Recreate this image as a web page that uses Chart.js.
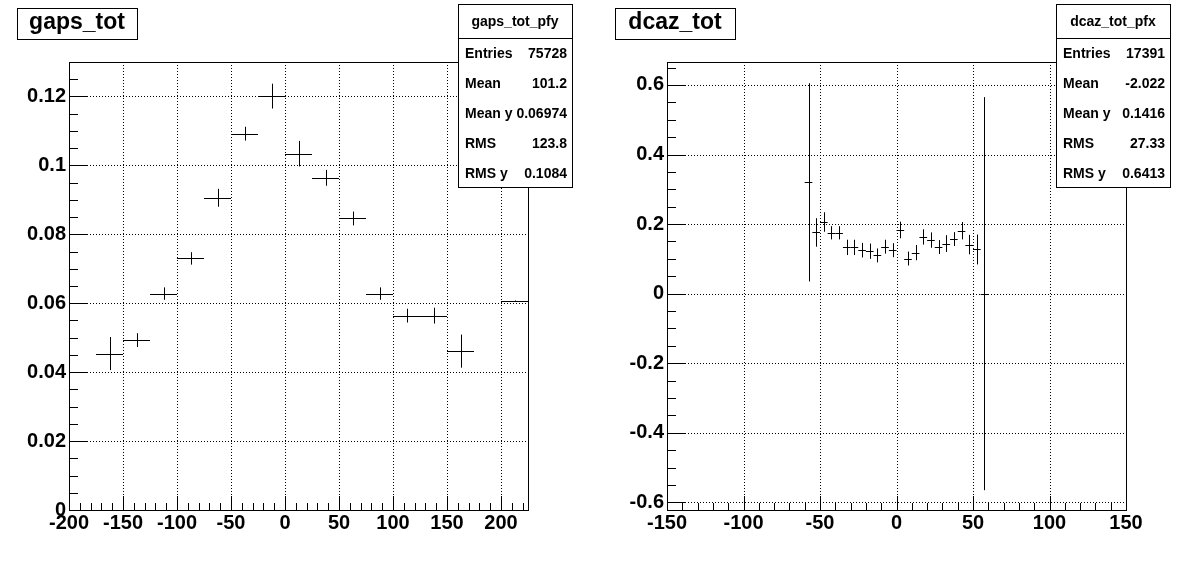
<!DOCTYPE html>
<html><head><meta charset="utf-8">
<script src="https://cdn.jsdelivr.net/npm/chart.js@4"></script>
<style>body{margin:0;background:#fff;width:1196px;height:572px;overflow:hidden}
canvas{position:absolute;top:0}</style></head>
<body>
<div style="position:absolute;left:0;top:0;width:598px;height:572px"><canvas id="c1"></canvas></div>
<div style="position:absolute;left:598px;top:0;width:598px;height:572px"><canvas id="c2"></canvas></div>
<script>
// gaps_tot (bin width 25)
const gapsX = [-162.5,-137.5,-112.5,-87.5,-62.5,-37.5,-12.5,12.5,37.5,62.5,87.5,112.5,137.5,162.5,212.5];
const gapsY = [0.0454,0.0493,0.0628,0.0730,0.0906,0.1092,0.1201,0.1034,0.0964,0.0846,0.0628,0.0564,0.0564,0.0461,0.0606];
const gapsErr = [0.0048,0.0020,0.0018,0.0018,0.0026,0.0020,0.0036,0.0037,0.0023,0.0020,0.0018,0.0020,0.0023,0.0048,0.0002];
const gapsXTicks = [-200,-150,-100,-50,0,50,100,150,200];
const gapsYTicks = [0,0.02,0.04,0.06,0.08,0.1,0.12];
const gapsStats = [["Entries","75728"],["Mean","101.2"],["Mean y","0.06974"],["RMS","123.8"],["RMS y","0.1084"]];
// dcaz_tot (bin width 5)
const dcazX = [-57.5,-52.5,-47.5,-42.5,-37.5,-32.5,-27.5,-22.5,-17.5,-12.5,-7.5,-2.5,2.5,7.5,12.5,17.5,22.5,27.5,32.5,37.5,42.5,47.5,52.5,57.5];
const dcazY = [0.320,0.176,0.206,0.175,0.175,0.133,0.133,0.125,0.122,0.110,0.135,0.125,0.183,0.101,0.118,0.163,0.154,0.134,0.144,0.157,0.181,0.141,0.127,0.0];
const dcazErr = [0.285,0.041,0.028,0.019,0.019,0.022,0.022,0.021,0.022,0.020,0.020,0.020,0.024,0.020,0.022,0.022,0.022,0.020,0.024,0.020,0.025,0.028,0.043,0.565];
const dcazXTicks = [-150,-100,-50,0,50,100,150];
const dcazYTicks = [-0.6,-0.4,-0.2,0,0.2,0.4,0.6];
const dcazStats = [["Entries","17391"],["Mean","-2.022"],["Mean y","0.1416"],["RMS","27.33"],["RMS y","0.6413"]];

const FONT = '"Liberation Sans", Arial, sans-serif';

function makeChart(id, xs, ys, errs, binW, xr, yr, xt, yt, xMinor, yMinor, title, statTitle, stats, fmtY){
  const pts = xs.map((x,i)=>({x, y: ys[i], e: errs[i]}));
  const deco = {
    id:'deco',
    beforeDatasetsDraw(ch){
      const c=ch.ctx, a=ch.chartArea, X=ch.scales.x, Y=ch.scales.y;
      c.save();
      c.strokeStyle='#000'; c.lineWidth=1; c.setLineDash([1,2]);
      xt.forEach(v=>{ if(v<=xr[0]||v>=xr[1]) return; const p=Math.round(X.getPixelForValue(v))+0.5; c.beginPath(); c.moveTo(p,a.top); c.lineTo(p,a.bottom); c.stroke(); });
      yt.forEach(v=>{ if(v<=yr[0]||v>=yr[1]) return; const p=Math.round(Y.getPixelForValue(v))+0.5; c.beginPath(); c.moveTo(a.left,p); c.lineTo(a.right,p); c.stroke(); });
      c.setLineDash([]);
      const x0 = Math.ceil(xr[0]/xMinor)*xMinor;
      for(let v=x0; v<=xr[1]+1e-9; v+=xMinor){
        const st=xt[1]-xt[0];
        const major = Math.abs(v/st - Math.round(v/st))<1e-6;
        const p=Math.round(X.getPixelForValue(v))+0.5, L= major?14:7;
        c.beginPath(); c.moveTo(p,a.bottom); c.lineTo(p,a.bottom-L); c.stroke();
      }
      const ys0 = Math.ceil(yr[0]/yMinor-1e-6)*yMinor;
      for(let v=ys0; v<=yr[1]+1e-9; v+=yMinor){
        const st=yt[1]-yt[0];
        const major = Math.abs(v/st - Math.round(v/st))<1e-6;
        const p=Math.round(Y.getPixelForValue(v))+0.5, L= major?18:9;
        c.beginPath(); c.moveTo(a.left,p); c.lineTo(a.left+L,p); c.stroke();
      }
      c.restore();
    },
    afterDatasetsDraw(ch){
      const c=ch.ctx, a=ch.chartArea, X=ch.scales.x, Y=ch.scales.y;
      c.save(); c.strokeStyle='#000'; c.lineWidth=1;
      pts.forEach(p=>{
        const xl=X.getPixelForValue(p.x-binW/2), xh=X.getPixelForValue(p.x+binW/2), xc=Math.round(X.getPixelForValue(p.x))+0.5;
        const yc=Math.round(Y.getPixelForValue(p.y))+0.5;
        c.beginPath(); c.moveTo(xl,yc); c.lineTo(xh,yc); c.stroke();
        c.beginPath(); c.moveTo(xc,Y.getPixelForValue(p.y-p.e)); c.lineTo(xc,Y.getPixelForValue(p.y+p.e)); c.stroke();
      });
      c.strokeRect(Math.round(a.left)+0.5, Math.round(a.top)+0.5, Math.round(a.right-a.left), Math.round(a.bottom-a.top));
      c.restore();
    },
    afterDraw(ch){
      const c=ch.ctx; c.save(); c.fillStyle='#fff'; c.strokeStyle='#000'; c.lineWidth=1;
      c.fillRect(17,8,120,31); c.strokeRect(17.5,8.5,120,31);
      c.fillStyle='#000'; c.font='bold 23px '+FONT; c.textBaseline='middle'; c.textAlign='center';
      c.fillText(title, 77, 23);
      const bx = 458, bw = 114, by=4, bh=183;
      c.fillStyle='#fff'; c.fillRect(bx,by,bw,bh); c.strokeRect(bx+0.5,by+0.5,bw,bh);
      c.beginPath(); c.moveTo(bx,38.5); c.lineTo(bx+bw,38.5); c.stroke();
      c.fillStyle='#000'; c.font='bold 14px '+FONT; c.textAlign='center';
      c.fillText(statTitle, bx+bw/2, 22);
      stats.forEach((s,i)=>{
        const yy = 54 + i*30;
        c.textAlign='left'; c.fillText(s[0], bx+7, yy);
        c.textAlign='right'; c.fillText(s[1], bx+bw-5, yy);
      });
      c.restore();
    }
  };
  return new Chart(document.getElementById(id), {
    type:'scatter',
    data:{datasets:[{data:pts, pointRadius:0, showLine:false}]},
    options:{
      responsive:true, maintainAspectRatio:false, animation:false,
      layout:{padding:{top:62,right:70,left:0,bottom:0}},
      plugins:{legend:{display:false}, tooltip:{enabled:false}},
      scales:{
        x:{type:'linear', min:xr[0], max:xr[1], border:{display:false}, grid:{display:false},
           afterBuildTicks:s=>{s.ticks=xt.map(v=>({value:v}));},
           afterFit:s=>{s.height=62;},
           ticks:{color:'#000', padding:-7, maxRotation:0, autoSkip:false, font:{family:FONT, size:20, weight:'bold'}, callback:v=>String(v)}},
        y:{type:'linear', min:yr[0], max:yr[1], border:{display:false}, grid:{display:false},
           afterBuildTicks:s=>{s.ticks=yt.map(v=>({value:v}));},
           afterFit:s=>{s.width=69;},
           ticks:{color:'#000', padding:-5, autoSkip:false, font:{family:FONT, size:20, weight:'bold'}, callback:fmtY}}
      }
    },
    plugins:[deco]
  });
}
const fmt = v => { const r=Math.round(v*1000)/1000; return String(r); };
makeChart('c1', gapsX, gapsY, gapsErr, 25, [-200,225], [0,0.13], gapsXTicks, gapsYTicks, 10, 0.005, 'gaps_tot', 'gaps_tot_pfy', gapsStats, fmt);
makeChart('c2', dcazX, dcazY, dcazErr, 5, [-150,150], [-0.622,0.666], dcazXTicks, dcazYTicks, 10, 0.05, 'dcaz_tot', 'dcaz_tot_pfx', dcazStats, fmt);
</script>
</body></html>
